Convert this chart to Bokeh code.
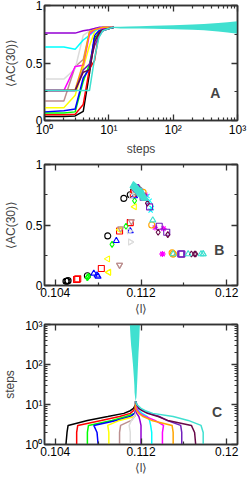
import math
from bokeh.plotting import figure
from bokeh.layouts import column
from bokeh.models import LinearAxis, LogAxis, FixedTicker, Label
from bokeh.embed import file_html
from bokeh.resources import INLINE

# ---------------- data ----------------
steps = [1, 2, 3, 4, 5, 6, 7, 8, 10, 12]

l_black = [0.1050, 0.1051, 0.1052, 0.1070, 0.1089, 0.1104, 0.1110, 0.1113, 0.1115, 0.1115]
ac_black = [0.035, 0.035, 0.04, 0.08, 0.41, 0.72, 0.75, 0.78, 0.80, 0.81]
l_red = [0.1060, 0.1060, 0.1061, 0.1083, 0.1100, 0.1110, 0.1113, 0.1114, 0.1115, 0.1115]
ac_red = [0.05, 0.05, 0.055, 0.14, 0.45, 0.52, 0.76, 0.79, 0.80, 0.81]
l_green = [0.1070, 0.1070, 0.1071, 0.1093, 0.1106, 0.1114, 0.1115, 0.1115, 0.1115, 0.1115]
ac_green = [0.065, 0.065, 0.075, 0.34, 0.49, 0.70, 0.77, 0.79, 0.80, 0.81]
l_blue = [0.1080, 0.1079, 0.1076, 0.1097, 0.1110, 0.1114, 0.1115, 0.1115, 0.1115, 0.1115]
ac_blue = [0.075, 0.085, 0.10, 0.37, 0.45, 0.74, 0.78, 0.80, 0.80, 0.81]
l_yellow = [0.1090, 0.1090, 0.1089, 0.1100, 0.1114, 0.1115, 0.1115, 0.1115, 0.1115, 0.1115]
ac_yellow = [0.11, 0.11, 0.22, 0.46, 0.65, 0.77, 0.80, 0.80, 0.81, 0.81]
l_brown = [0.1100, 0.1100, 0.1101, 0.1111, 0.1114, 0.1115, 0.1115, 0.1115, 0.1115, 0.1115]
ac_brown = [0.17, 0.17, 0.47, 0.53, 0.77, 0.80, 0.80, 0.81, 0.81, 0.81]
l_grey = [0.1110, 0.1110, 0.1109, 0.1111, 0.1114, 0.1115, 0.1115, 0.1115, 0.1115, 0.1115]
ac_grey = [0.36, 0.36, 0.45, 0.74, 0.78, 0.80, 0.80, 0.81, 0.81, 0.81]
l_violet = [0.1120, 0.1120, 0.1120, 0.1119, 0.1118, 0.1116, 0.1115, 0.1115, 0.1115, 0.1115]
ac_violet = [0.76, 0.76, 0.76, 0.78, 0.79, 0.80, 0.81, 0.81, 0.81, 0.81]
l_cyan = [0.1130, 0.1130, 0.1129, 0.1128, 0.1126, 0.1121, 0.1118, 0.1116, 0.1115, 0.1115]
ac_cyan = [0.64, 0.64, 0.62, 0.70, 0.74, 0.78, 0.80, 0.80, 0.81, 0.81]
l_magenta = [0.1140, 0.1140, 0.1141, 0.1133, 0.1124, 0.1119, 0.1117, 0.1116, 0.1115, 0.1115]
ac_magenta = [0.26, 0.26, 0.47, 0.48, 0.75, 0.79, 0.80, 0.80, 0.81, 0.81]
l_orange = [0.1150, 0.1150, 0.1149, 0.1130, 0.1122, 0.1118, 0.1116, 0.1115, 0.1115, 0.1115]
ac_orange = [0.26, 0.26, 0.27, 0.50, 0.77, 0.79, 0.80, 0.81, 0.81, 0.81]
l_indigo = [0.1158, 0.1158, 0.1157, 0.1144, 0.1137, 0.1128, 0.1122, 0.1118, 0.1116, 0.1115]
ac_indigo = [0.26, 0.26, 0.26, 0.44, 0.49, 0.65, 0.73, 0.78, 0.80, 0.81]
l_maroon = [0.1171, 0.1170, 0.1167, 0.1145, 0.1136, 0.1126, 0.1121, 0.1118, 0.1116, 0.1115]
ac_maroon = [0.26, 0.26, 0.26, 0.42, 0.44, 0.68, 0.76, 0.79, 0.80, 0.81]
l_turq = [0.1178, 0.1178, 0.1176, 0.1164, 0.1150, 0.1131, 0.1124, 0.1120, 0.1116, 0.1115]
ac_turq = [0.26, 0.26, 0.26, 0.26, 0.26, 0.54, 0.72, 0.78, 0.80, 0.81]

# long-time fluctuation envelope (steps 12..1000)
tail_steps = [12, 15, 20, 30, 50, 100, 200, 300, 500, 700, 1000]
tail_ac_lo = [0.805, 0.80, 0.80, 0.80, 0.797, 0.793, 0.79, 0.785, 0.775, 0.765, 0.755]
tail_ac_hi = [0.815, 0.815, 0.818, 0.82, 0.823, 0.828, 0.835, 0.84, 0.848, 0.855, 0.862]
tail_l_lo = [0.11150, 0.11145, 0.11140, 0.11138, 0.11133, 0.11125, 0.11115, 0.11108, 0.11102, 0.11099, 0.11096]
tail_l_hi = [0.11150, 0.11157, 0.11160, 0.11163, 0.11167, 0.11172, 0.11177, 0.11181, 0.11185, 0.11187, 0.11190]

# cluster of late-time points in panel B
cluster_l = [0.1113, 0.1114, 0.1115, 0.1116, 0.1117, 0.1118, 0.1119, 0.1120, 0.1121, 0.1122, 0.1123]
cluster_ac = [0.825, 0.818, 0.81, 0.80, 0.79, 0.78, 0.77, 0.76, 0.75, 0.74, 0.725]

series = [
    ("#000000", "circle", 0.0, l_black, ac_black),
    ("#ff0000", "square", 0.0, l_red, ac_red),
    ("#00ff00", "diamond", 0.0, l_green, ac_green),
    ("#0000ff", "triangle", 0.0, l_blue, ac_blue),
    ("#ffff00", "triangle", math.pi / 2, l_yellow, ac_yellow),
    ("#bc8f8f", "inverted_triangle", 0.0, l_brown, ac_brown),
    ("#dcdcdc", "triangle", -math.pi / 2, l_grey, ac_grey),
    ("#9400d3", "cross", 0.0, l_violet, ac_violet),
    ("#00ffff", "x", 0.0, l_cyan, ac_cyan),
    ("#ff00ff", "asterisk", 0.0, l_magenta, ac_magenta),
    ("#ffa500", "circle", 0.0, l_orange, ac_orange),
    ("#7221bc", "square", 0.0, l_indigo, ac_indigo),
    ("#670748", "diamond", 0.0, l_maroon, ac_maroon),
    ("#40e0d0", "triangle", 0.0, l_turq, ac_turq),
]

log_major = [1, 10, 100, 1000]
log_minor = [m * d for d in (1, 10, 100) for m in range(2, 10)]
log_labels = {1: "10⁰", 10: "10¹", 100: "10²", 1000: "10³"}
ac_major = [0, 0.5, 1]
ac_minor = [0.25, 0.75]
ac_labels = {0: "0", 0.5: "0.5", 1: "1"}
l_major = [0.104, 0.112, 0.12]
l_minor = [0.108, 0.116]
l_labels = {0.104: "0.104", 0.112: "0.112", 0.12: "0.12"}

FONT = "Liberation Sans"
W = 249


def style_axis(ax, major, minor, labels, show):
    ax.ticker = FixedTicker(ticks=major, minor_ticks=minor)
    ax.major_tick_in = 6
    ax.major_tick_out = 0
    ax.minor_tick_in = 3
    ax.minor_tick_out = 0
    ax.major_tick_line_color = "#333333"
    ax.minor_tick_line_color = "#333333"
    ax.major_tick_line_width = 1.3
    ax.minor_tick_line_width = 1.2
    ax.axis_line_color = "#333333"
    ax.axis_line_width = 1.5
    ax.major_label_text_font = FONT
    ax.axis_label_text_font = FONT
    ax.axis_label_text_font_size = "12px"
    ax.axis_label_text_font_style = "normal"
    ax.axis_label_standoff = 2
    ax.major_label_overrides = labels
    if show:
        ax.major_label_text_color = "black"
        ax.major_label_text_font_size = "12px"
        ax.major_label_standoff = 2
    else:
        ax.major_label_text_color = None
        ax.major_label_text_font_size = "1px"
        ax.major_label_standoff = 0


def make_fig(h, bt, bb, xlog, ylog, xr, yr, xm, xmin, xl, ym, ymin, yl, xlabel, ylabel):
    p = figure(width=W, height=h, output_backend="svg", toolbar_location=None,
               x_axis_type="log" if xlog else "linear",
               y_axis_type="log" if ylog else "linear",
               x_range=xr, y_range=yr,
               min_border_left=43, min_border_right=12,
               min_border_top=bt, min_border_bottom=bb)
    p.grid.visible = False
    p.outline_line_color = "#333333"
    p.outline_line_width = 1.5
    style_axis(p.xaxis[0], xm, xmin, xl, True)
    style_axis(p.yaxis[0], ym, ymin, yl, True)
    p.yaxis[0].axis_label_standoff = 5
    p.xaxis[0].axis_label = xlabel
    p.yaxis[0].axis_label = ylabel
    top = LogAxis() if xlog else LinearAxis()
    style_axis(top, xm, xmin, xl, False)
    p.add_layout(top, "above")
    right = LogAxis() if ylog else LinearAxis()
    style_axis(right, ym, ymin, yl, False)
    p.add_layout(right, "right")
    return p


# ---------------- panel A ----------------
pa = make_fig(158, 5, 32, True, False, (1, 1000), (0, 1),
              log_major, log_minor, log_labels, ac_major, ac_minor, ac_labels,
              "steps", "⟨AC(30)⟩")
for col, mk, ang, ls, acs in series:
    pa.line(steps, acs, line_color=col, line_width=1.5)
pa.varea(x=tail_steps, y1=tail_ac_lo, y2=tail_ac_hi, fill_color="#40e0d0")
pa.add_layout(Label(x=450, y=0.24, text="A", text_font=FONT, text_font_style="bold",
                    text_font_size="14px", text_align="center", text_baseline="middle"))

# ---------------- panel B ----------------
pb = make_fig(160, 6, 33, False, False, (0.103, 0.121), (0, 1),
              l_major, l_minor, l_labels, ac_major, ac_minor, ac_labels,
              "⟨l⟩", "⟨AC(30)⟩")
for col, mk, ang, ls, acs in series:
    pb.scatter(ls, acs, marker=mk, angle=ang, size=6, fill_color=None,
               line_color=col, line_width=1.1)
pb.scatter(cluster_l, cluster_ac, marker="triangle", size=7, fill_color="#40e0d0",
           line_color="#40e0d0", line_width=1.2)
pb.add_layout(Label(x=0.1193, y=0.29, text="B", text_font=FONT, text_font_style="bold",
                    text_font_size="14px", text_align="center", text_baseline="middle"))

# ---------------- panel C ----------------
pc = make_fig(160, 6, 34, False, True, (0.103, 0.121), (1, 1000),
              l_major, l_minor, l_labels, log_major, log_minor, log_labels,
              "⟨l⟩", "steps")
for col, mk, ang, ls, acs in series:
    pc.line(ls, steps, line_color=col, line_width=1.5)
pc.harea(y=tail_steps, x1=tail_l_lo, x2=tail_l_hi, fill_color="#40e0d0")
pc.add_layout(Label(x=0.1191, y=6.5, text="C", text_font=FONT, text_font_style="bold",
                    text_font_size="14px", text_align="center", text_baseline="middle"))

layout = column(pa, pb, pc, spacing=0)
open("out.html", "w").write(file_html(layout, INLINE))
